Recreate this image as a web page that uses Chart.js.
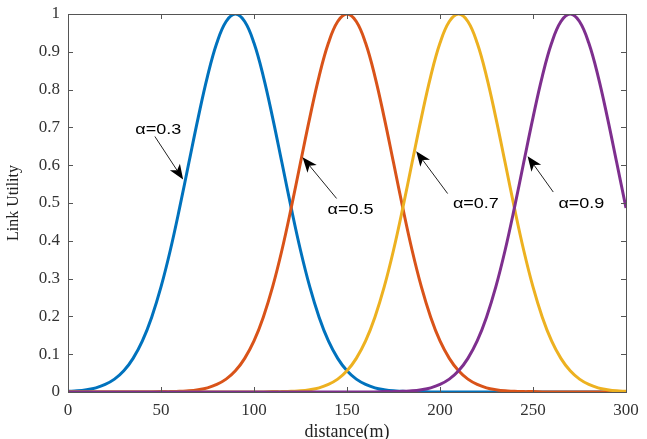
<!DOCTYPE html>
<html>
<head>
<meta charset="utf-8">
<script src="https://cdn.jsdelivr.net/npm/chart.js@4"></script>
<style>
  html, body { margin: 0; padding: 0; background: #fff; }
  #wrap { width: 647px; height: 439px; }
</style>
</head>
<body>
<div id="wrap"><canvas id="myLineChart"></canvas></div>
<script>
// distance in metres, every 5 m
const distance = [0,5,10,15,20,25,30,35,40,45,50,55,60,65,70,75,80,85,90,95,100,
  105,110,115,120,125,130,135,140,145,150,155,160,165,170,175,180,185,190,195,200,
  205,210,215,220,225,230,235,240,245,250,255,260,265,270,275,280,285,290,295,300];

const alpha03 = [0.002,0.003,0.006,0.011,0.020,0.034,0.056,0.089,0.135,0.198,0.278,
  0.375,0.487,0.607,0.726,0.835,0.923,0.980,1.000,0.980,0.923,0.835,0.726,0.607,0.487,
  0.375,0.278,0.198,0.135,0.089,0.056,0.034,0.020,0.011,0.006,0.003,0.002,0.001,0.001,
  0,0,0,0,0,0,0,0,0,0,0,0,0,0,0,0,0,0,0,0,0,0];

const alpha05 = [0,0,0,0,0,0,0,0,0,0,0.001,0.001,0.002,0.003,0.006,0.011,0.020,0.034,
  0.056,0.089,0.135,0.198,0.278,0.375,0.487,0.607,0.726,0.835,0.923,0.980,1.000,0.980,
  0.923,0.835,0.726,0.607,0.487,0.375,0.278,0.198,0.135,0.089,0.056,0.034,0.020,0.011,
  0.006,0.003,0.002,0.001,0.001,0,0,0,0,0,0,0,0,0,0];

const alpha07 = [0,0,0,0,0,0,0,0,0,0,0,0,0,0,0,0,0,0,0,0,0,0,0.001,0.001,0.002,0.003,
  0.006,0.011,0.020,0.034,0.056,0.089,0.135,0.198,0.278,0.375,0.487,0.607,0.726,0.835,
  0.923,0.980,1.000,0.980,0.923,0.835,0.726,0.607,0.487,0.375,0.278,0.198,0.135,0.089,
  0.056,0.034,0.020,0.011,0.006,0.003,0.002];

const alpha09 = [0,0,0,0,0,0,0,0,0,0,0,0,0,0,0,0,0,0,0,0,0,0,0,0,0,0,0,0,0,0,0,0,0,0,
  0.001,0.001,0.002,0.003,0.006,0.011,0.020,0.034,0.056,0.089,0.135,0.198,0.278,0.375,
  0.487,0.607,0.726,0.835,0.923,0.980,1.000,0.980,0.923,0.835,0.726,0.607,0.487];

const xTicks = [0,50,100,150,200,250,300];
const yTicks = [0,0.1,0.2,0.3,0.4,0.5,0.6,0.7,0.8,0.9,1];

// arrow labels: text, text centre, arrow tail, arrow tip (data units)
const labelText = ['α=0.3','α=0.5','α=0.7','α=0.9'];
const labelPos  = [[48.5,0.693],[151.9,0.483],[219.3,0.497],[276,0.499]];
const arrowTail = [[46.7,0.676],[144.4,0.512],[204.1,0.525],[260.9,0.529]];
const arrowTip  = [[61.9,0.562],[126.1,0.621],[187.2,0.637],[247.1,0.624]];

function pts(vals){
    return distance.map((d, i) => ({x: d, y: vals[i]}));
}

const boxPlugin = {
    id: 'box',
    afterDraw(chart){
        const ctx = chart.ctx;
        const a = chart.chartArea;
        const xs = chart.scales.x, ys = chart.scales.y;
        ctx.save();
        ctx.strokeStyle = '#555';
        ctx.lineWidth = 1;
        ctx.strokeRect(Math.round(a.left)+0.5, Math.round(a.top)+0.5,
            Math.round(a.right-a.left), Math.round(a.bottom-a.top));
        ctx.beginPath();
        for(const t of xTicks){
            const px = Math.round(xs.getPixelForValue(t))+0.5;
            ctx.moveTo(px, a.bottom); ctx.lineTo(px, a.bottom-5);
            ctx.moveTo(px, a.top); ctx.lineTo(px, a.top+5);
        }
        for(const t of yTicks){
            const py = Math.round(ys.getPixelForValue(t))+0.5;
            ctx.moveTo(a.left, py); ctx.lineTo(a.left+5, py);
            ctx.moveTo(a.right, py); ctx.lineTo(a.right-5, py);
        }
        ctx.stroke();

        // arrows + labels
        ctx.fillStyle = '#000';
        ctx.strokeStyle = '#222';
        ctx.font = '15px "Liberation Sans", Arial, sans-serif';
        ctx.textAlign = 'center';
        ctx.textBaseline = 'middle';
        for(let i = 0; i < labelText.length; i++){
            const tx = xs.getPixelForValue(arrowTail[i][0]), ty = ys.getPixelForValue(arrowTail[i][1]);
            const hx = xs.getPixelForValue(arrowTip[i][0]), hy = ys.getPixelForValue(arrowTip[i][1]);
            const ang = Math.atan2(hy-ty, hx-tx);
            const len = 15, wid = 6, back = 11;
            ctx.beginPath();
            ctx.moveTo(tx, ty);
            ctx.lineTo(hx - back*Math.cos(ang), hy - back*Math.sin(ang));
            ctx.lineWidth = 1;
            ctx.stroke();
            ctx.beginPath();
            ctx.moveTo(hx, hy);
            ctx.lineTo(hx - len*Math.cos(ang) + wid*Math.sin(ang), hy - len*Math.sin(ang) - wid*Math.cos(ang));
            ctx.lineTo(hx - back*Math.cos(ang), hy - back*Math.sin(ang));
            ctx.lineTo(hx - len*Math.cos(ang) - wid*Math.sin(ang), hy - len*Math.sin(ang) + wid*Math.cos(ang));
            ctx.closePath();
            ctx.fill();
            const lx = xs.getPixelForValue(labelPos[i][0]), ly = ys.getPixelForValue(labelPos[i][1]);
            ctx.save();
            ctx.translate(lx, ly);
            ctx.scale(1.2, 1);
            ctx.fillText(labelText[i], 0, 0);
            ctx.restore();
        }
        ctx.restore();
    }
};

document.addEventListener('DOMContentLoaded', function () {
    const ctx = document.getElementById('myLineChart').getContext('2d');
    const serif = '"Liberation Serif", "Times New Roman", serif';
    new Chart(ctx, {
        type: 'line',
        data: {
            datasets: [
                {label: 'α=0.3', data: pts(alpha03), borderColor: '#0072BD', order: 4},
                {label: 'α=0.5', data: pts(alpha05), borderColor: '#D95319', order: 3},
                {label: 'α=0.7', data: pts(alpha07), borderColor: '#EDB120', order: 2},
                {label: 'α=0.9', data: pts(alpha09), borderColor: '#7E2F8E', order: 1}
            ]
        },
        options: {
            responsive: true,
            maintainAspectRatio: false,
            animation: false,
            elements: {
                line: {borderWidth: 3, tension: 0.4},
                point: {radius: 0}
            },
            layout: {padding: {top: 14, right: 21, left: 0, bottom: 0}},
            plugins: {legend: {display: false}, tooltip: {enabled: false}},
            scales: {
                x: {
                    type: 'linear', min: 0, max: 300,
                    afterFit: s => { s.height = 47; s.paddingLeft = 0; s.paddingRight = 0; },
                    afterBuildTicks: s => { s.ticks = xTicks.map(v => ({value: v})); },
                    grid: {display: false, drawTicks: false},
                    border: {display: false},
                    ticks: {padding: 8, color: '#333', maxRotation: 0, font: {family: serif, size: 17}},
                    title: {display: true, text: 'distance(m)', color: '#222',
                        padding: {top: 0, bottom: 0}, font: {family: serif, size: 18, lineHeight: 0.7}}
                },
                y: {
                    min: 0, max: 1,
                    afterFit: s => { s.width = 68; s.paddingTop = 0; s.paddingBottom = 0; },
                    afterBuildTicks: s => { s.ticks = yTicks.map(v => ({value: v})); },
                    grid: {display: false, drawTicks: false},
                    border: {display: false},
                    ticks: {padding: 8, color: '#333', font: {family: serif, size: 17},
                        callback: v => String(Math.round(v*10)/10)},
                    title: {display: true, text: 'Link Utility', color: '#222',
                        padding: {top: 4, bottom: 0}, font: {family: serif, size: 16}}
                }
            }
        },
        plugins: [boxPlugin]
    });
});
</script>
</body>
</html>
